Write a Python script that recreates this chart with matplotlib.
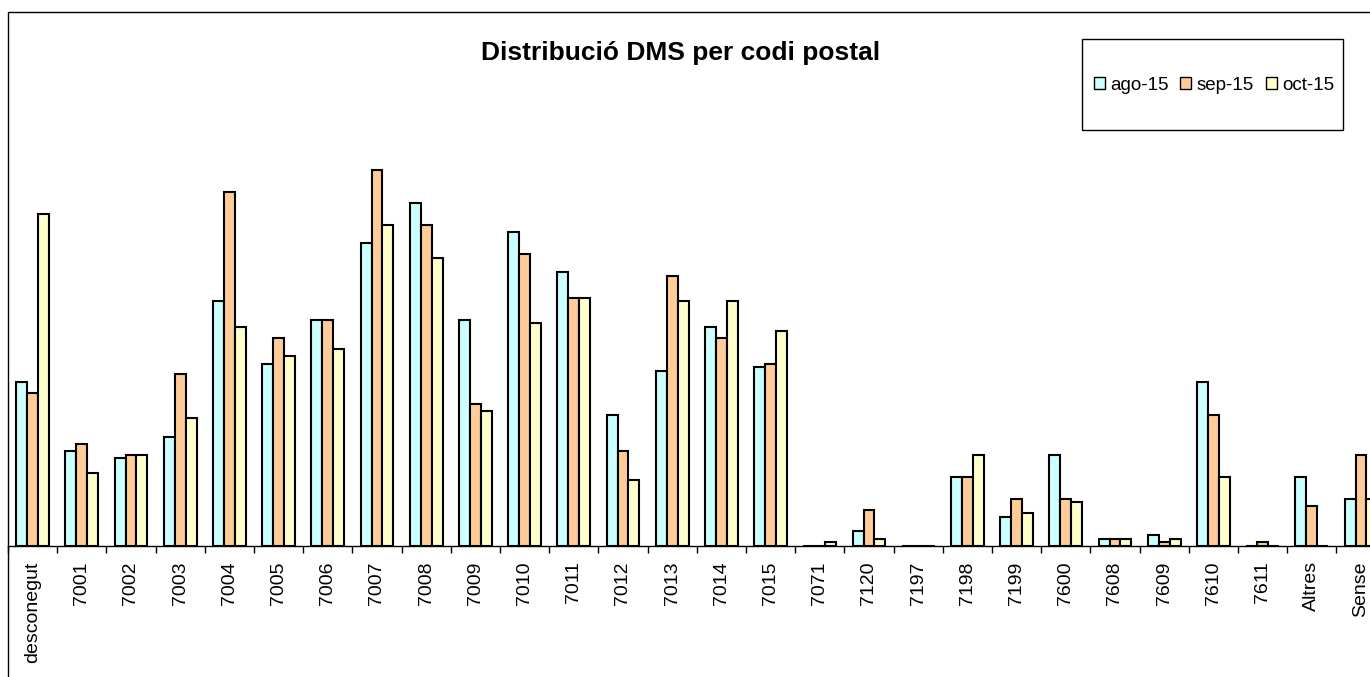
import matplotlib
matplotlib.use('Agg')
import matplotlib.pyplot as plt
import numpy as np
from matplotlib.patches import Rectangle, Patch

categories = ['desconegut', '7001', '7002', '7003', '7004', '7005', '7006', '7007',
              '7008', '7009', '7010', '7011', '7012', '7013', '7014', '7015',
              '7071', '7120', '7197', '7198', '7199', '7600', '7608', '7609',
              '7610', '7611', 'Altres', 'Sense']
ago_15 = [45, 26, 24, 30, 67, 50, 62, 83, 94, 62, 86, 75, 36, 48, 60, 49,
          0, 4, 0, 19, 8, 25, 2, 3, 45, 0, 19, 13]
sep_15 = [42, 28, 25, 47, 97, 57, 62, 103, 88, 39, 80, 68, 26, 74, 57, 50,
          0, 10, 0, 19, 13, 13, 2, 1, 36, 1, 11, 25]
oct_15 = [91, 20, 25, 35, 60, 52, 54, 88, 79, 37, 61, 68, 18, 67, 67, 59,
          1, 2, 0, 25, 9, 12, 2, 2, 19, 0, 0, 13]
series_labels = ['ago-15', 'sep-15', 'oct-15']
series_colors = ['#CCFFFF', '#FFCC99', '#FFFFCC']
title = 'Distribució DMS per codi postal'

plt.rcParams['font.family'] = ['Liberation Sans', 'DejaVu Sans']

W, H = 1370, 677
fig = plt.figure(figsize=(W / 100, H / 100), dpi=100)

n = len(categories)
cat_px = 49.2
x0_px = 8
base_px = 546
top_px = 100
unit_px = 3.65

ax = fig.add_axes([x0_px / W, (H - base_px) / H, n * cat_px / W, (base_px - top_px) / H])
ax.set_xlim(0, n)
ax.set_ylim(0, (base_px - top_px) / unit_px)

x = np.arange(n) + 0.5
bw = 1 / 4.5
for i, (vals, col, lab) in enumerate(zip([ago_15, sep_15, oct_15], series_colors, series_labels)):
    ax.bar(x + (i - 1) * bw, vals, bw, color=col, edgecolor='black', linewidth=1.5, label=lab)

for s in ['left', 'right', 'top']:
    ax.spines[s].set_visible(False)
ax.spines['bottom'].set_color('black')
ax.spines['bottom'].set_linewidth(1.0)
ax.spines['bottom'].set_zorder(3)
ax.set_yticks([])
ax.set_xticks(x)
ax.set_xticklabels(categories, rotation=90, fontsize=14, va='top', ha='center')
ax.tick_params(axis='x', which='major', length=0, pad=11)
ax.set_xticks(np.arange(n + 1), minor=True)
ax.tick_params(axis='x', which='minor', length=5, width=1, color='black', direction='out')

# chart frame
fig.add_artist(Rectangle((x0_px / W, -0.1), 1.2, (H - 12) / H + 0.1, transform=fig.transFigure,
                         fill=False, edgecolor='black', linewidth=1.0, zorder=1))

# legend box
lx0, lx1, ly0, ly1 = 1082, 1343, 39, 130
fig.add_artist(Rectangle((lx0 / W, (H - ly1) / H), (lx1 - lx0) / W, (ly1 - ly0) / H,
                         transform=fig.transFigure, facecolor='white', edgecolor='black',
                         linewidth=1.0, zorder=2))
handles = [Patch(facecolor=c, edgecolor='black', linewidth=1.0) for c in series_colors]
fig.legend(handles, series_labels, ncol=3, loc='center',
           bbox_to_anchor=((lx0 + lx1) / 2 / W + 1.5 / W, (H - 85) / H), frameon=False,
           handlelength=0.6, handleheight=0.6, handletextpad=0.3, columnspacing=0.6,
           fontsize=13.5, borderpad=0.0)

fig.text(680.5 / W, (H - 53) / H, title, fontsize=19, fontweight='bold', ha='center', va='center')

fig.savefig('out.png', dpi=100)
